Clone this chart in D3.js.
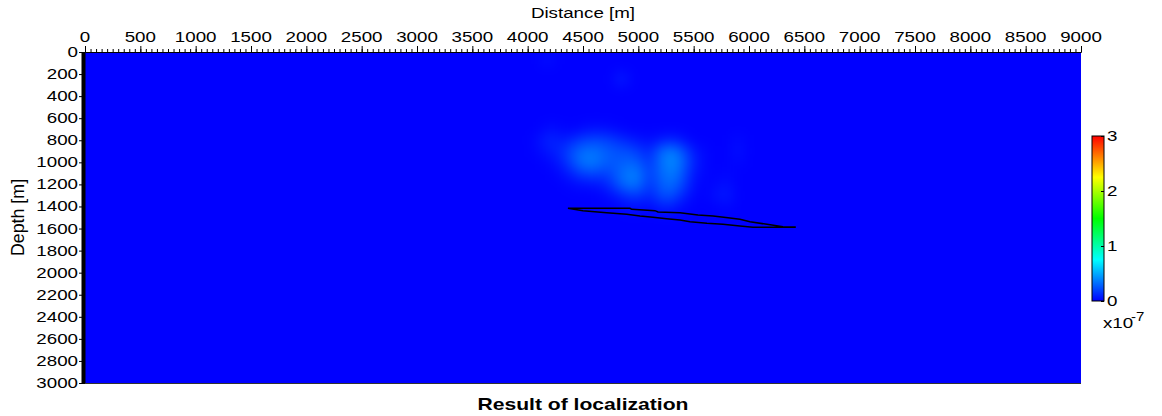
<!DOCTYPE html>
<html><head><meta charset="utf-8">
<script src="https://cdn.jsdelivr.net/npm/d3@7"></script>
<style>
body{margin:0;background:#fff}
text{font-family:"Liberation Sans",Arial,Helvetica,sans-serif;fill:#000}
</style>
</head><body>
<svg id="chart" width="1162" height="416"></svg>
<script>
// ---------------- data ----------------
const xTicks = [0,500,1000,1500,2000,2500,3000,3500,4000,4500,5000,5500,6000,6500,7000,7500,8000,8500,9000];
const depthTicks = [0,200,400,600,800,1000,1200,1400,1600,1800,2000,2200,2400,2600,2800,3000];
const cbTicks = [0,1,2,3];
// amplitude grid (units of 1e-7), nodes every 100 m
const gridX = [4000,4100,4200,4300,4400,4500,4600,4700,4800,4900,5000,5100,5200,5300,5400,5500,5600,5700,5800,5900,6000];
const gridDepth = [700,800,900,1000,1100,1200,1300,1400];
const gridValues = [
  [0,0,0.04,0.02,0,0.03,0.05,0.04,0.02,0,0,0,0,0,0,0,0,0,0,0,0],
  [0,0.04,0.12,0.07,0.12,0.19,0.22,0.21,0.16,0.10,0.06,0.03,0.07,0.11,0.05,0,0,0,0,0.03,0],
  [0,0.02,0.07,0.12,0.24,0.34,0.35,0.29,0.25,0.24,0.18,0.10,0.31,0.40,0.26,0.07,0.02,0,0,0.05,0],
  [0,0,0.02,0.08,0.22,0.37,0.38,0.29,0.26,0.30,0.27,0.14,0.32,0.43,0.31,0.10,0.02,0,0,0.02,0],
  [0,0,0,0.03,0.10,0.20,0.22,0.18,0.27,0.38,0.37,0.17,0.30,0.38,0.26,0.06,0.02,0,0.02,0,0],
  [0,0,0,0,0.02,0.04,0.05,0.09,0.22,0.36,0.34,0.14,0.27,0.33,0.21,0.04,0,0.02,0.04,0,0],
  [0,0,0,0,0,0,0,0.02,0.07,0.14,0.17,0.09,0.22,0.24,0.11,0.02,0,0.05,0.08,0,0],
  [0,0,0,0,0,0,0,0,0,0.04,0.04,0.02,0.09,0.09,0.02,0,0,0,0.02,0,0]
];
// isolated faint spots
const spotX = [4180, 4850];
const spotDepth = [70, 245];
const spotValue = [0.05, 0.10];
// fault outline
const faultTopX = [4367,4925,4940,5150,5178,5376,5539,5675,5810,5918,6009,6163,6307,6416];
const faultTopD = [1417,1417,1426,1438,1450,1456,1477,1486,1502,1516,1538,1562,1583,1586];
const faultBotX = [4364,4500,4714,4895,5015,5133,5256,5376,5467,5620,5765,5918,6036,6416];
const faultBotD = [1417,1438,1456,1471,1486,1498,1511,1523,1538,1552,1562,1577,1589,1589];

// ---------------- layout ----------------
const svg = d3.select('#chart');
const L = 85, R = 1081, T = 52, B = 383;
const SX = 1.25; // horizontal text stretch
const FS = 15;
const x = d3.scaleLinear().domain([0,9000]).range([L,R]);
const y = d3.scaleLinear().domain([0,3000]).range([T,B]);
const cmax = 3;
const color = v => d3.hsl(240*(1-Math.max(0,Math.min(1,v/cmax))), 1, 0.5).toString();

function stext(g, tx, ty, str, anchor, size, weight, sx){
  return g.append('text')
    .attr('transform', `translate(${tx},${ty}) scale(${sx||SX},1)`)
    .attr('text-anchor', anchor||'start')
    .style('font-size', (size||FS)+'px')
    .style('font-weight', weight||'normal')
    .text(str);
}

const defs = svg.append('defs');
defs.append('clipPath').attr('id','clip').append('rect')
  .attr('x',L).attr('y',T).attr('width',R-L).attr('height',B-T);
defs.append('filter').attr('id','blur').attr('x','-50%').attr('y','-50%').attr('width','200%').attr('height','200%')
  .attr('color-interpolation-filters','sRGB')
  .append('feGaussianBlur').attr('stdDeviation',6.5);

// background
svg.append('rect').attr('x',L).attr('y',T).attr('width',R-L).attr('height',B-T).attr('fill',color(0));

// heat cells
const cells = [];
gridDepth.forEach((d,i)=>gridX.forEach((gx,j)=>{ if(gridValues[i][j]>0) cells.push({x:gx,d:d,v:gridValues[i][j]}); }));
spotX.forEach((sx,i)=>cells.push({x:sx,d:spotDepth[i],v:spotValue[i]}));
const heat = svg.append('g').attr('clip-path','url(#clip)').append('g').attr('filter','url(#blur)');
heat.selectAll('rect').data(cells).join('rect')
  .attr('x', c=>x(c.x-50)).attr('y', c=>y(c.d-50))
  .attr('width', x(100)-x(0)).attr('height', y(100)-y(0))
  .attr('fill', c=>color(c.v));

// fault outline
const pts = faultTopX.map((v,i)=>[v,faultTopD[i]])
  .concat(faultBotX.map((v,i)=>[v,faultBotD[i]]).reverse());
svg.append('path').attr('d', d3.line().x(p=>x(p[0])).y(p=>y(p[1]))(pts)+'Z')
  .attr('fill','none').attr('stroke','#000').attr('stroke-width',1.5);

// top axis
const minor = d3.range(0,9001,50);
svg.append('g').attr('transform',`translate(0,${T})`)
  .call(d3.axisTop(x).tickValues(minor).tickSize(3).tickFormat(''))
  .call(g=>g.selectAll('line').attr('stroke','#000'))
  .call(g=>g.select('.domain').attr('stroke','#000'));
svg.append('g').attr('transform',`translate(0,${T})`)
  .call(d3.axisTop(x).tickValues(xTicks).tickSize(6).tickFormat(''))
  .call(g=>g.select('.domain').remove());
const gl = svg.append('g');
xTicks.forEach(t=>stext(gl, x(t), 42, String(t), 'middle'));
stext(gl, (L+R)/2, 18, 'Distance [m]', 'middle');

// left axis
svg.append('g').attr('transform',`translate(${L-2},0)`)
  .call(d3.axisLeft(y).tickValues(depthTicks).tickSize(4).tickFormat(''))
  .call(g=>g.select('.domain').remove());
svg.append('line').attr('x1',L-1.5).attr('x2',L-1.5).attr('y1',T).attr('y2',B+1)
  .attr('stroke','#000').attr('stroke-width',4);
depthTicks.forEach(t=>stext(gl, 78, y(t)+5, String(t), 'end'));
gl.append('text').attr('transform',`translate(24,${(T+B)/2}) rotate(-90)`)
  .attr('text-anchor','middle').style('font-size',(FS*SX*0.95)+'px').text('Depth [m]');
// bottom edge
svg.append('line').attr('x1',L).attr('x2',R).attr('y1',B+0.5).attr('y2',B+0.5)
  .attr('stroke','#333').attr('stroke-width',1);

// title
stext(gl, (L+R)/2, 410, 'Result of localization', 'middle', 16, 'bold', 1.32);

// colorbar
const cbX = 1092, cbW = 12;
const cy = d3.scaleLinear().domain([0,cmax]).range([301,136]);
const grad = defs.append('linearGradient').attr('id','cbgrad').attr('x1',0).attr('y1',1).attr('x2',0).attr('y2',0);
d3.range(0,1.0001,0.05).forEach(t=>grad.append('stop').attr('offset',t).attr('stop-color',color(t*cmax)));
svg.append('rect').attr('x',cbX).attr('y',cy(cmax)).attr('width',cbW).attr('height',cy(0)-cy(cmax))
  .attr('fill','url(#cbgrad)').attr('stroke','#000').attr('stroke-width',1);
svg.append('g').attr('transform',`translate(${cbX+cbW},0)`)
  .call(d3.axisLeft(cy).tickValues(cbTicks).tickSize(3).tickFormat(''))
  .call(g=>g.select('.domain').remove());
cbTicks.forEach(t=>stext(gl, cbX+cbW+3, cy(t)+5, String(t), 'start'));
stext(gl, 1103, 328, 'x10', 'start');
stext(gl, 1131, 321, '-7', 'start', 12);
</script>
</body></html>
